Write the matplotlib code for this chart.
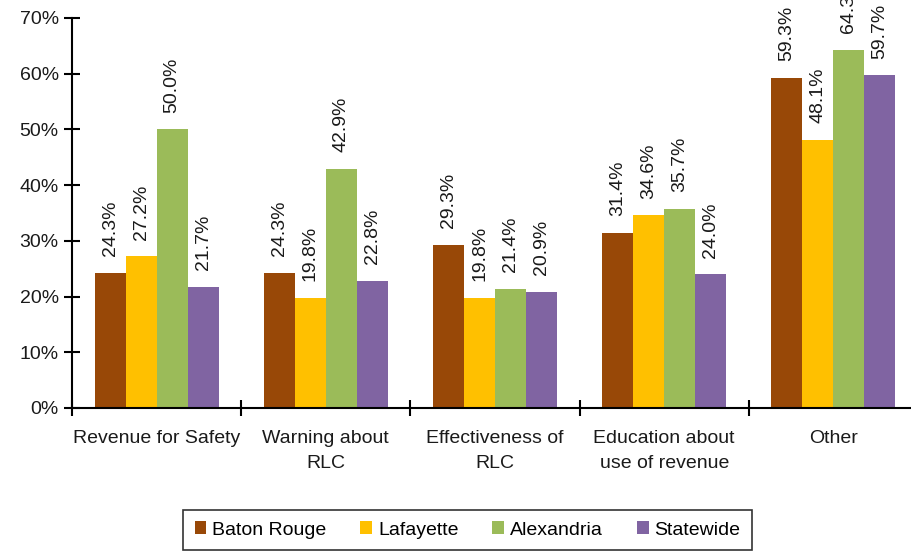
import matplotlib
matplotlib.use("Agg")
import matplotlib.pyplot as plt
import numpy as np
from matplotlib.ticker import FuncFormatter, FixedLocator

plt.rcParams['font.family'] = ['Liberation Sans', 'DejaVu Sans']

categories = ["Revenue for Safety", "Warning about\nRLC", "Effectiveness of\nRLC",
              "Education about\nuse of revenue", "Other"]
series_names = ["Baton Rouge", "Lafayette", "Alexandria", "Statewide"]
baton_rouge = [24.3, 24.3, 29.3, 31.4, 59.3]
lafayette = [27.2, 19.8, 19.8, 34.6, 48.1]
alexandria = [50.0, 42.9, 21.4, 35.7, 64.3]
statewide = [21.7, 22.8, 20.9, 24.0, 59.7]
colors = ["#984807", "#FFC000", "#9BBB59", "#8064A2"]

fig = plt.figure(figsize=(9.11, 5.54), dpi=100)
ax = fig.add_axes([72/911, 1-408/554, (918-72)/911, (408-18)/554])

data = [baton_rouge, lafayette, alexandria, statewide]
n = len(categories)
x = np.arange(n)
w = 0.183
for i, (vals, c, name) in enumerate(zip(data, colors, series_names)):
    pos = x + (i - 1.5) * w
    ax.bar(pos, vals, width=w, color=c, label=name, zorder=2)
    for p, v in zip(pos, vals):
        ax.annotate(f"{v:.1f}%", xy=(p, v), xytext=(0, 12), textcoords="offset points",
                    rotation=90, ha="center", va="bottom", fontsize=14,
                    color="#1a1a1a", annotation_clip=False)

ax.set_xlim(-0.5, n - 0.5)
ax.set_ylim(0, 70)
ax.set_yticks(np.arange(0, 71, 10))
ax.yaxis.set_major_formatter(FuncFormatter(lambda v, _: f"{v:.0f}%"))
ax.set_xticks(x)
ax.set_xticklabels(categories, fontsize=14, linespacing=1.6)
ax.xaxis.set_minor_locator(FixedLocator(np.arange(-0.5, n, 1.0)))
ax.tick_params(axis="x", which="major", length=0, pad=16)
ax.tick_params(axis="x", which="minor", direction="inout", length=11, width=1.5)
ax.tick_params(axis="y", direction="inout", length=11, width=1.5, labelsize=14, pad=4)
for lab in ax.get_yticklabels():
    lab.set_color("#1a1a1a")
for lab in ax.get_xticklabels():
    lab.set_color("#1a1a1a")

for s in ["top", "right"]:
    ax.spines[s].set_visible(False)
for s in ["left", "bottom"]:
    ax.spines[s].set_linewidth(1.5)
    ax.spines[s].set_color("black")

leg = fig.legend(loc="center", bbox_to_anchor=(467.5/911, 1-530/554), ncol=4,
                 fontsize=14, frameon=True, fancybox=False, edgecolor="black",
                 handlelength=0.6, handleheight=0.6, handletextpad=0.3,
                 columnspacing=1.75, borderpad=0.6, borderaxespad=0)
leg.get_frame().set_linewidth(1.2)

fig.savefig("out.png", dpi=100)
